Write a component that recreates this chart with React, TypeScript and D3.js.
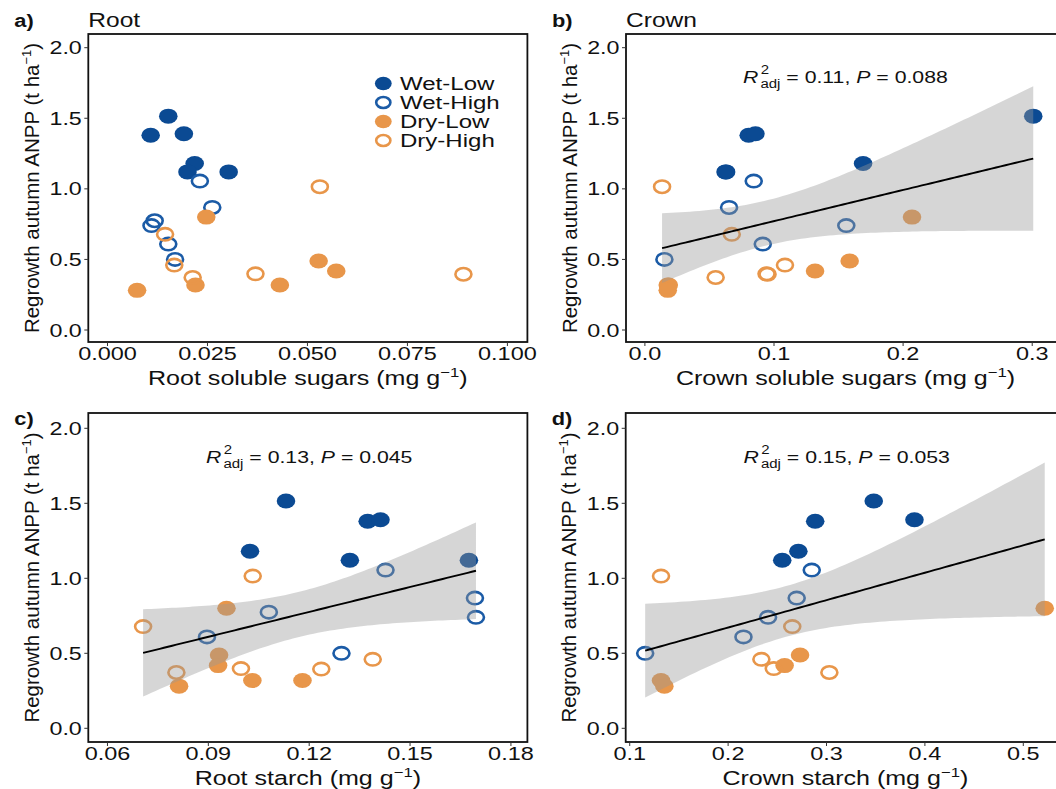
import React from "react";
import * as d3 from "d3";

// ---------- data (y shared per group; x per panel, null = not shown) ----------
const groups = ["Wet-Low", "Wet-High", "Dry-Low", "Dry-High"];
const groupFilled = [true, false, true, false];
const groupColor = ["#0B4A93", "#1B5BA6", "#E8964A", "#E8964A"];

const wetLowY = [1.515, 1.38, 1.39, 1.18, 1.12, 1.12];
const wetHighY = [1.055, 0.868, 0.774, 0.74, 0.609, 0.5];
const dryLowY = [0.8, 0.489, 0.418, 0.319, 0.319, 0.281];
const dryHighY = [1.015, 0.678, 0.46, 0.398, 0.395, 0.372];

// a) root soluble sugars
const rootSugarWetLow = [0.0152, 0.0108, 0.0191, 0.0218, 0.02, 0.0303];
const rootSugarWetHigh = [0.0231, 0.0262, 0.0118, 0.011, 0.0152, 0.0169];
const rootSugarDryLow = [0.0247, 0.0528, 0.0572, 0.022, 0.0431, 0.0074];
const rootSugarDryHigh = [0.0531, 0.0144, 0.0167, 0.037, 0.089, 0.0213];
// b) crown soluble sugars
const crownSugarWetLow = [0.3008, 0.0804, 0.0856, 0.169, 0.0629, 0.0625];
const crownSugarWetHigh = [0.0843, 0.0652, null, 0.156, 0.0913, 0.0151];
const crownSugarDryLow = [0.2069, 0.1586, 0.1318, 0.0177, 0.0185, 0.0177];
const crownSugarDryHigh = [0.0133, 0.0673, 0.1085, 0.0942, 0.095, 0.0548];
// c) root starch
const rootStarchWetLow = [0.1131, 0.1374, 0.1412, 0.1024, 0.1321, 0.1675];
const rootStarchWetHigh = [0.1427, 0.1693, 0.108, 0.1696, 0.0896, 0.1296];
const rootStarchDryLow = [0.0954, 0.0932, 0.0929, 0.1031, 0.118, 0.0813];
const rootStarchDryHigh = [0.1032, 0.0706, 0.1389, 0.0997, 0.1236, 0.0805];
// d) crown starch
const crownStarchWetLow = [0.348, 0.2885, 0.3894, 0.2714, 0.255, null];
const crownStarchWetHigh = [0.285, 0.2697, null, 0.2406, 0.2156, 0.1157];
const crownStarchDryLow = [0.5218, 0.2731, 0.2574, 0.1318, null, 0.1352];
const crownStarchDryHigh = [0.1318, 0.2652, 0.2338, 0.2464, null, 0.3029];

const yTicks = [0, 0.5, 1.0, 1.5, 2.0];
const xTicksA = [0, 0.025, 0.05, 0.075, 0.1];
const xTicksB = [0, 0.1, 0.2, 0.3];
const xTicksC = [0.06, 0.09, 0.12, 0.15, 0.18];
const xTicksD = [0.1, 0.2, 0.3, 0.4, 0.5];

const statsB = { r2: "0.11", p: "0.088" };
const statsC = { r2: "0.13", p: "0.045" };
const statsD = { r2: "0.15", p: "0.053" };

const yValues = [wetLowY, wetHighY, dryLowY, dryHighY];

// ---------- layout ----------
const FONT = "'Liberation Sans', Arial, Helvetica, sans-serif";

type Panel = {
  tag: string;
  title?: string;
  box: { l: number; t: number; r: number; b: number };
  xDomain: [number, number];
  yDomain: [number, number];
  xTicks: number[];
  xFmt: string;
  xs: (number | null)[][];
  xLabel: string;
  stats?: { r2: string; p: string };
  statsPos?: [number, number];
  tagY: number;
  legend?: boolean;
};

const panels: Panel[] = [
  {
    tag: "a)", title: "Root",
    box: { l: 88.3, t: 34, r: 527.4, b: 342 },
    xDomain: [-0.0048, 0.105], yDomain: [-0.085, 2.097],
    xTicks: xTicksA, xFmt: ".3f",
    xs: [rootSugarWetLow, rootSugarWetHigh, rootSugarDryLow, rootSugarDryHigh],
    xLabel: "Root soluble sugars", tagY: 27, legend: true,
  },
  {
    tag: "b)", title: "Crown",
    box: { l: 626, t: 34, r: 1065, b: 342 },
    xDomain: [-0.01464, 0.3254], yDomain: [-0.085, 2.097],
    xTicks: xTicksB, xFmt: ".1f",
    xs: [crownSugarWetLow, crownSugarWetHigh, crownSugarDryLow, crownSugarDryHigh],
    xLabel: "Crown soluble sugars", stats: statsB, statsPos: [743, 83], tagY: 27,
  },
  {
    tag: "c)",
    box: { l: 88.3, t: 413, r: 527.4, b: 742 },
    xDomain: [0.0543, 0.1849], yDomain: [-0.0913, 2.102],
    xTicks: xTicksC, xFmt: ".2f",
    xs: [rootStarchWetLow, rootStarchWetHigh, rootStarchDryLow, rootStarchDryHigh],
    xLabel: "Root starch", stats: statsC, statsPos: [206, 463], tagY: 425,
  },
  {
    tag: "d)",
    box: { l: 625.7, t: 413, r: 1065, b: 742 },
    xDomain: [0.0959, 0.5424], yDomain: [-0.0913, 2.102],
    xTicks: xTicksD, xFmt: ".1f",
    xs: [crownStarchWetLow, crownStarchWetHigh, crownStarchDryLow, crownStarchDryHigh],
    xLabel: "Crown starch", stats: statsD, statsPos: [743.5, 463], tagY: 425,
  },
];

function tCrit(df: number) {
  const z = 1.959964;
  const g1 = (z ** 3 + z) / 4;
  const g2 = (5 * z ** 5 + 16 * z ** 3 + 3 * z) / 96;
  const g3 = (3 * z ** 7 + 19 * z ** 5 + 17 * z ** 3 - 15 * z) / 384;
  return z + g1 / df + g2 / df ** 2 + g3 / df ** 3;
}

function lmFit(pts: [number, number][]) {
  const n = pts.length;
  const mx = d3.mean(pts, (p) => p[0])!;
  const my = d3.mean(pts, (p) => p[1])!;
  const sxx = d3.sum(pts, (p) => (p[0] - mx) ** 2);
  const sxy = d3.sum(pts, (p) => (p[0] - mx) * (p[1] - my));
  const b = sxy / sxx;
  const a = my - b * mx;
  const sse = d3.sum(pts, (p) => (p[1] - a - b * p[0]) ** 2);
  const s = Math.sqrt(sse / (n - 2));
  const t = tCrit(n - 2);
  const [x0, x1] = d3.extent(pts, (p) => p[0]) as [number, number];
  const grid = d3.range(81).map((i) => x0 + ((x1 - x0) * i) / 80);
  return grid.map((x) => {
    const yhat = a + b * x;
    const se = s * Math.sqrt(1 / n + (x - mx) ** 2 / sxx);
    return { x, y: yhat, lo: yhat - t * se, hi: yhat + t * se };
  });
}

function SText(props: {
  x: number; y: number; anchor?: string; size: number; sx: number;
  weight?: string | number; children: React.ReactNode;
}) {
  const { x, y, anchor = "start", size, sx, weight = "normal", children } = props;
  return (
    <g transform={`translate(${x},${y}) scale(${sx},1)`}>
      <text textAnchor={anchor} fontSize={size} fontWeight={weight} fontFamily={FONT} fill="#111">
        {children}
      </text>
    </g>
  );
}

function Mark({ cx, cy, g, rx = 9.3, ry = 7.5 }: { cx: number; cy: number; g: number; rx?: number; ry?: number }) {
  const col = groupColor[g];
  if (groupFilled[g]) return <ellipse cx={cx} cy={cy} rx={rx} ry={ry} fill={col} />;
  return <ellipse cx={cx} cy={cy} rx={rx - 1.3} ry={ry - 1.3} fill="none" stroke={col} strokeWidth={2.6} />;
}

function PanelView({ p }: { p: Panel }) {
  const { l, t, r, b } = p.box;
  const x = d3.scaleLinear().domain(p.xDomain).range([l, r]);
  const y = d3.scaleLinear().domain(p.yDomain).range([b, t]);
  const pts: { x: number; y: number; g: number }[] = [];
  p.xs.forEach((arr, g) =>
    arr.forEach((xv, i) => {
      if (xv != null) pts.push({ x: xv, y: yValues[g][i], g });
    })
  );
  const fit = p.stats ? lmFit(pts.map((d) => [d.x, d.y] as [number, number])) : null;
  const area = d3.area<{ x: number; lo: number; hi: number }>()
    .x((d) => x(d.x)).y0((d) => y(d.lo)).y1((d) => y(d.hi));
  const line = d3.line<{ x: number; y: number }>().x((d) => x(d.x)).y((d) => y(d.y));
  const fmtX = d3.format(p.xFmt);
  const fmtY = d3.format(".1f");
  const cx = (l + Math.min(r, 1056 + (r - 1056))) / 2;
  const cy = (t + b) / 2;
  const yTitleX = l - 49.5;

  return (
    <g>
      {/* tag + title */}
      <SText x={l - 74} y={p.tagY} size={19} weight="bold" sx={1.15}>{p.tag}</SText>
      {p.title && <SText x={l} y={27} size={19.5} sx={1.26}>{p.title}</SText>}

      {/* points */}
      {pts.map((d, i) => (
        <Mark key={i} cx={x(d.x)} cy={y(d.y)} g={d.g} />
      ))}

      {/* fit */}
      {fit && (
        <g>
          <path d={area(fit)!} fill="#999999" fillOpacity={0.4} />
          <path d={line(fit)!} fill="none" stroke="#000" strokeWidth={1.9} />
        </g>
      )}

      {/* frame */}
      <rect x={l} y={t} width={r - l} height={b - t} fill="none" stroke="#111" strokeWidth={1.8} />

      {/* y axis */}
      {yTicks.map((v) => (
        <g key={v}>
          <line x1={l - 4} x2={l} y1={y(v)} y2={y(v)} stroke="#333" strokeWidth={1} />
          <SText x={l - 6.5} y={y(v) + 6.5} size={17.5} anchor="end" sx={1.33}>{fmtY(v)}</SText>
        </g>
      ))}
      {/* x axis */}
      {p.xTicks.map((v) => (
        <g key={v}>
          <line x1={x(v)} x2={x(v)} y1={b} y2={b + 4} stroke="#333" strokeWidth={1} />
          <SText x={x(v)} y={b + 17.5} size={17.5} anchor="middle" sx={1.34}>{fmtX(v)}</SText>
        </g>
      ))}

      {/* axis titles */}
      <text
        transform={`translate(${yTitleX},${cy}) rotate(-90)`}
        textAnchor="middle" fontSize={20.5} fontFamily={FONT} fill="#111"
      >
        Regrowth autumn ANPP (t ha
        <tspan dy={-8} fontSize={13}>−1</tspan>
        <tspan dy={8}>)</tspan>
      </text>
      <SText x={cx} y={b + 42.5} size={19.5} anchor="middle" sx={1.285}>
        {p.xLabel} (mg g
        <tspan dy={-8} fontSize={13}>−1</tspan>
        <tspan dy={8}>)</tspan>
      </SText>

      {/* stats */}
      {p.stats && p.statsPos && (
        <SText x={p.statsPos[0]} y={p.statsPos[1]} size={17} sx={1.25}>
          <tspan fontStyle="italic">R</tspan>
          <tspan fontSize={12} dy={-9} dx={2}>2</tspan>
          <tspan fontSize={12} dy={14} dx={-7}>adj</tspan>
          <tspan dy={-5}> = {p.stats.r2}, </tspan>
          <tspan fontStyle="italic">P</tspan>
          <tspan> = {p.stats.p}</tspan>
        </SText>
      )}

      {/* legend */}
      {p.legend &&
        groups.map((gname, g) => {
          const ly = 83.5 + g * 19;
          return (
            <g key={gname}>
              <Mark cx={383.3} cy={ly} g={g} rx={8.4} ry={6.8} />
              <SText x={400} y={ly + 6.5} size={18.5} sx={1.3}>{gname}</SText>
            </g>
          );
        })}
    </g>
  );
}

export default function App() {
  return (
    <svg width={1056} height={789} viewBox="0 0 1056 789" style={{ display: "block", position: "absolute", left: 0, top: 0, background: "#fff" }}>
      <rect width={1056} height={789} fill="#fff" />
      {panels.map((p) => (
        <PanelView key={p.tag} p={p} />
      ))}
    </svg>
  );
}
